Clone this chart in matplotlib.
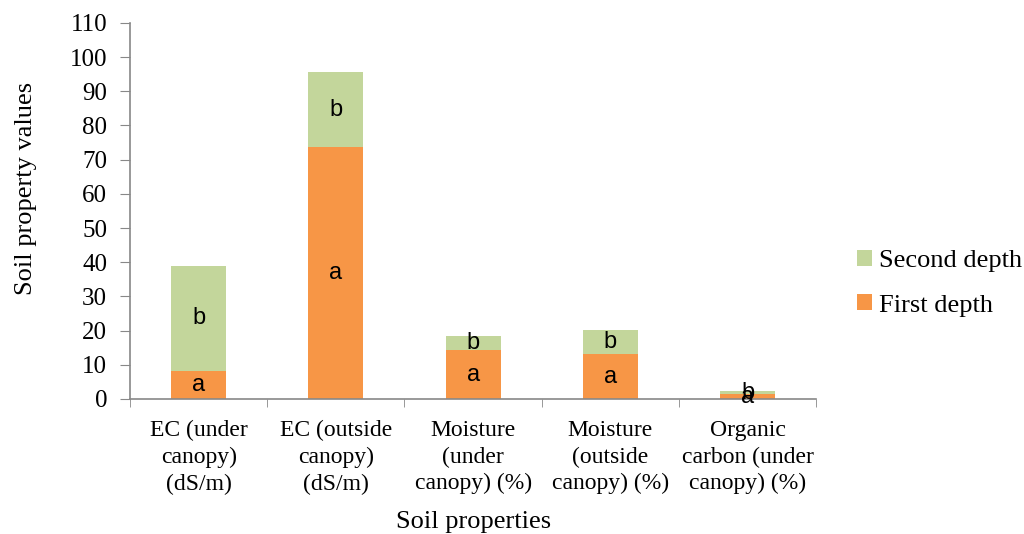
import matplotlib
matplotlib.use("Agg")
import matplotlib.pyplot as plt
import numpy as np

categories = ["EC (under\ncanopy)\n(dS/m)", "EC (outside\ncanopy)\n(dS/m)",
              "Moisture\n(under\ncanopy) (%)", "Moisture\n(outside\ncanopy) (%)",
              "Organic\ncarbon (under\ncanopy) (%)"]
first_depth = [8.2, 73.6, 14.2, 13.1, 1.3]
second_depth = [30.8, 22.1, 4.1, 7.0, 0.9]
first_letters = ["a", "a", "a", "a", "a"]
second_letters = ["b", "b", "b", "b", "b"]
yticks = list(range(0, 111, 10))

ORANGE = "#F79646"
GREEN = "#C3D69B"
AXIS = "#888888"
serif = "Liberation Serif"

fig = plt.figure(figsize=(10.24, 5.34), dpi=100)
ax = fig.add_axes([0.127, 0.253, 0.67, 0.704])

x = np.arange(len(categories))
b1 = ax.bar(x, first_depth, width=0.4, color=ORANGE, label="First depth")
b2 = ax.bar(x, second_depth, width=0.4, bottom=first_depth, color=GREEN,
            label="Second depth")

# significance letters centred in each segment
for xi, f, s, la, lb in zip(x, first_depth, second_depth, first_letters, second_letters):
    ax.text(xi, f / 2, la, ha="center", va="center", fontsize=17,
            family="Liberation Sans")
    ax.text(xi, f + s / 2, lb, ha="center", va="center", fontsize=17,
            family="Liberation Sans")

ax.set_xlim(-0.5, len(categories) - 0.5)
ax.set_ylim(0, 110)
ax.set_yticks(yticks)
ax.set_yticklabels([str(t) for t in yticks], family=serif, fontsize=18)
ax.set_xticks(x)
ax.set_xticklabels(categories, family=serif, fontsize=17, linespacing=1.35)
ax.set_xticks(np.arange(-0.5, len(categories)), minor=True)
ax.tick_params(axis="x", which="major", length=0, pad=15)
ax.tick_params(axis="x", which="minor", length=6, color=AXIS, direction="out")
ax.tick_params(axis="y", length=7, color=AXIS, direction="out", pad=9.5)

for side in ("top", "right"):
    ax.spines[side].set_visible(False)
for side in ("left", "bottom"):
    ax.spines[side].set_color(AXIS)
    ax.spines[side].set_linewidth(1.2)

ax.set_ylabel("Soil property values", family=serif, fontsize=19)
ax.yaxis.set_label_coords(-0.135, 0.56)
ax.set_xlabel("Soil properties", family=serif, fontsize=19)
ax.xaxis.set_label_coords(0.5, -0.298)

leg = ax.legend(handles=[b2, b1], loc="center left", bbox_to_anchor=(1.025, 0.308),
                frameon=False, prop={"family": serif, "size": 19},
                handlelength=0.55, handleheight=0.55, handletextpad=0.3,
                labelspacing=0.85)

fig.savefig("out.png", dpi=100)
